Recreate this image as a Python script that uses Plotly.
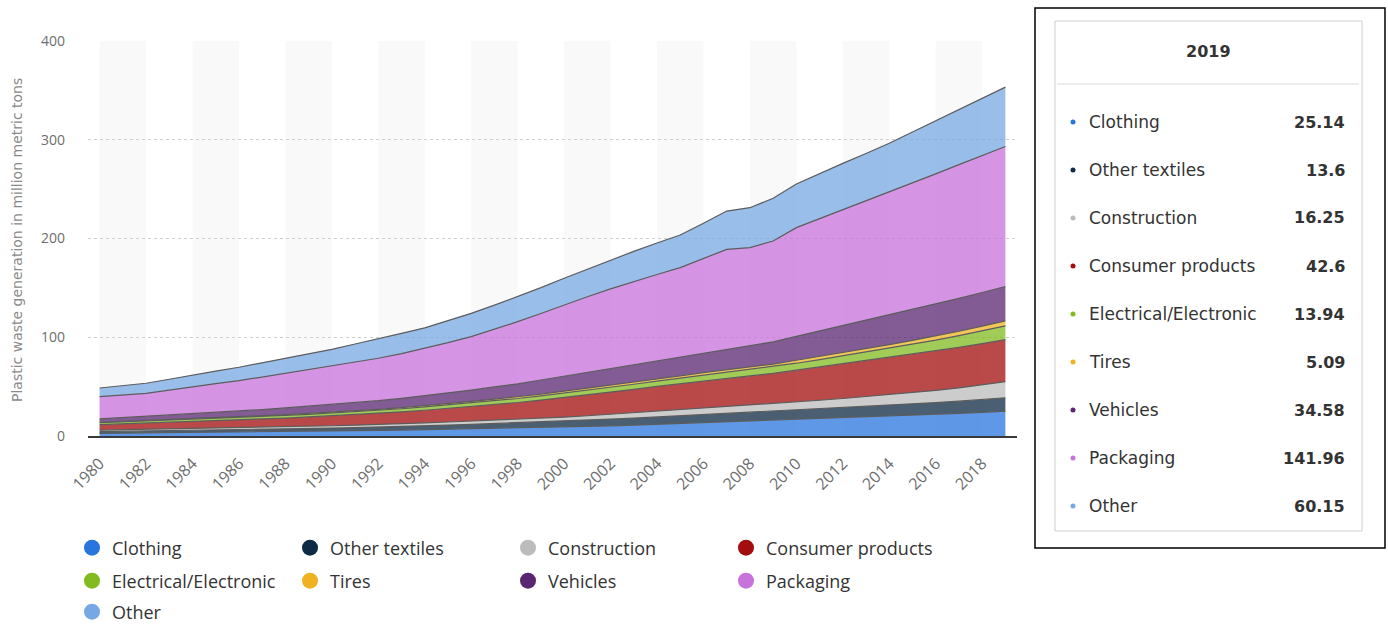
import plotly.graph_objects as go

# Plastic waste generation by industrial sector, million metric tons
years = list(range(1980, 2020))

clothing = [2.7, 2.9, 3.1, 3.3, 3.5, 3.7, 3.9, 4.2, 4.4, 4.7,
            5.0, 5.3, 5.6, 6.0, 6.4, 6.8, 7.2, 7.6, 8.0, 8.4,
            8.9, 9.6, 10.3, 11.0, 11.8, 12.6, 13.5, 14.3, 15.0, 15.8,
            16.6, 17.5, 18.4, 19.3, 20.1, 21.0, 21.9, 22.9, 24.0, 25.14]
other_textiles = [1.7, 1.8, 1.9, 2.0, 2.1, 2.2, 2.3, 2.5, 2.6, 2.8,
                  3.0, 3.2, 3.4, 3.7, 4.0, 4.3, 4.6, 5.0, 5.3, 5.7,
                  6.1, 6.4, 6.8, 7.2, 7.6, 8.0, 8.4, 8.7, 8.9, 9.2,
                  9.5, 9.8, 10.2, 10.6, 11.0, 11.4, 11.9, 12.4, 13.0, 13.6]
construction = [1.6, 1.7, 1.7, 1.8, 1.9, 1.9, 2.0, 2.1, 2.2, 2.3,
                2.4, 2.5, 2.6, 2.8, 2.9, 3.1, 3.3, 3.5, 3.7, 3.9,
                4.1, 4.5, 4.9, 5.3, 5.8, 6.2, 6.7, 7.1, 7.5, 7.9,
                8.4, 8.9, 9.4, 10.0, 10.7, 11.5, 12.4, 13.5, 14.8, 16.25]
consumer_products = [5.5, 5.9, 6.3, 6.7, 7.1, 7.5, 8.0, 8.5, 9.0, 9.5,
                     10.1, 10.7, 11.3, 12.0, 12.8, 13.7, 14.7, 15.8, 16.9, 18.4,
                     19.9, 21.2, 22.5, 23.8, 25.0, 26.2, 27.3, 28.5, 29.4, 30.5,
                     32.2, 33.6, 35.0, 36.3, 37.6, 38.8, 39.9, 40.9, 41.8, 42.6]
electrical = [1.9, 2.0, 2.0, 2.1, 2.2, 2.3, 2.4, 2.5, 2.6, 2.7,
              2.8, 2.9, 3.0, 3.1, 3.3, 3.5, 3.7, 3.9, 4.1, 4.3,
              4.5, 4.7, 4.9, 5.1, 5.3, 5.5, 5.8, 6.1, 6.3, 6.6,
              7.0, 7.6, 8.3, 8.9, 9.5, 10.2, 11.0, 11.9, 12.9, 13.94]
tires = [0.5, 0.5, 0.6, 0.6, 0.7, 0.7, 0.8, 0.8, 0.9, 0.9,
         1.0, 1.0, 1.1, 1.2, 1.3, 1.4, 1.5, 1.6, 1.7, 1.8,
         1.9, 2.0, 2.1, 2.2, 2.3, 2.4, 2.5, 2.6, 2.7, 2.8,
         3.0, 3.1, 3.3, 3.5, 3.7, 3.9, 4.2, 4.5, 4.8, 5.09]
vehicles = [3.4, 3.8, 4.2, 4.6, 5.0, 5.4, 5.8, 6.2, 6.7, 7.2,
            7.7, 8.2, 8.8, 9.4, 10.1, 10.8, 11.5, 12.3, 13.1, 14.2,
            15.2, 16.0, 16.8, 17.6, 18.4, 19.2, 19.8, 20.8, 21.6, 22.6,
            24.2, 25.8, 27.4, 28.9, 30.3, 31.5, 32.5, 33.3, 34.0, 34.58]
packaging = [22.5, 22.6, 23.4, 25.4, 27.5, 29.3, 30.8, 33.0, 35.1, 37.1,
             38.9, 40.8, 42.9, 45.3, 48.0, 50.9, 54.1, 58.3, 63.0, 67.3,
             72.1, 76.6, 80.7, 84.3, 87.3, 90.4, 96.0, 100.9, 99.3, 102.1,
             110.1, 113.7, 116.9, 120.5, 124.1, 128.0, 131.7, 135.4, 138.7, 141.96]
other = [8.8, 9.6, 10.2, 11.0, 11.8, 12.7, 13.6, 14.3, 15.2, 16.0,
         16.9, 18.6, 20.2, 20.5, 20.7, 22.0, 23.6, 24.5, 25.2, 26.2,
         27.0, 28.0, 29.0, 30.5, 32.0, 33.0, 35.5, 38.8, 40.5, 43.2,
         44.2, 46.0, 47.2, 48.0, 49.4, 51.5, 53.7, 55.8, 57.9, 60.15]

series_names = ["Clothing", "Other textiles", "Construction", "Consumer products",
                "Electrical/Electronic", "Tires", "Vehicles", "Packaging", "Other"]
series_values = [clothing, other_textiles, construction, consumer_products,
                 electrical, tires, vehicles, packaging, other]
series_colors = ["#2876dd", "#0f2a44", "#bcbcbc", "#a30d0d",
                 "#82bb1f", "#efb322", "#5a2672", "#c872db", "#78a8e3"]

x_ticks = list(range(1980, 2019, 2))
y_ticks = [0, 100, 200, 300, 400]

# plot-area geometry (pixels) used for placing the side panel
W, H = 1388, 625
PL, PR, PT, PB = 88, 1017, 41, 436


def px(x):
    return (x - PL) / (PR - PL)


def py(y):
    return (PB - y) / (PB - PT)


def rgba(hex_color, a):
    h = hex_color.lstrip("#")
    r, g, b = int(h[0:2], 16), int(h[2:4], 16), int(h[4:6], 16)
    return f"rgba({r},{g},{b},{a})"


fig = go.Figure()

# stacked areas
for name, vals, col in zip(series_names, series_values, series_colors):
    fig.add_trace(go.Scatter(
        x=years, y=vals, name=name, stackgroup="one", mode="lines",
        line=dict(color="#5c5c5c", width=1.2),
        fillcolor=rgba(col, 0.75),
        showlegend=False, hoverinfo="skip",
    ))

# legend entries (round markers), three rows
legend_rows = ["legend", "legend", "legend", "legend",
               "legend2", "legend2", "legend2", "legend2", "legend3"]
for name, col, lg in zip(series_names, series_colors, legend_rows):
    fig.add_trace(go.Scatter(
        x=[None], y=[None], name=name, mode="markers",
        marker=dict(color=col, size=16, symbol="circle"),
        showlegend=True, legend=lg, hoverinfo="skip",
    ))

# alternating background bands, two years wide
shapes = []
for start in range(1980, 2019, 4):
    shapes.append(dict(type="rect", xref="x", yref="paper",
                       x0=start, x1=start + 2, y0=0, y1=1,
                       fillcolor="#f9f9f9", line=dict(width=0), layer="below"))

# side panel with the 2019 breakdown
shapes.append(dict(type="rect", xref="paper", yref="paper",
                   x0=px(1035), x1=px(1385), y0=py(548), y1=py(8),
                   line=dict(color="#000000", width=1.5), fillcolor="white", layer="above"))
shapes.append(dict(type="rect", xref="paper", yref="paper",
                   x0=px(1055), x1=px(1362), y0=py(531), y1=py(21),
                   line=dict(color="#cfcfcf", width=1), fillcolor="white", layer="above"))
shapes.append(dict(type="line", xref="paper", yref="paper",
                   x0=px(1057), x1=px(1359), y0=py(84), y1=py(84),
                   line=dict(color="#dcdcdc", width=1), layer="above"))

annotations = [
    dict(text="Plastic waste generation in million metric tons", textangle=-90,
         xref="paper", yref="paper", x=px(17), y=py(240),
         xanchor="center", yanchor="middle", showarrow=False,
         font=dict(family="DejaVu Sans", size=14, color="#8a8a8a")),
    dict(text="<b>" + str(years[-1]) + "</b>", xref="paper", yref="paper",
         x=px(1208), y=py(51), xanchor="center", yanchor="middle", showarrow=False,
         font=dict(family="DejaVu Sans", size=16, color="#333333")),
]

for i, (name, vals, col) in enumerate(zip(series_names, series_values, series_colors)):
    row_y = 122 + 48 * i
    shapes.append(dict(type="circle", xref="paper", yref="paper",
                       x0=px(1070.5), x1=px(1075.5), y0=py(row_y + 2.5), y1=py(row_y - 2.5),
                       fillcolor=col, line=dict(width=0), layer="above"))
    annotations.append(dict(text=name, xref="paper", yref="paper",
                            x=px(1087), y=py(row_y), xanchor="left", yanchor="middle",
                            showarrow=False,
                            font=dict(family="DejaVu Sans", size=17, color="#333333")))
    annotations.append(dict(text="<b>" + f"{vals[-1]:g}" + "</b>", xref="paper", yref="paper",
                            x=px(1347), y=py(row_y), xanchor="right", yanchor="middle",
                            showarrow=False,
                            font=dict(family="DejaVu Sans", size=16, color="#333333")))

legend_style = dict(orientation="h", entrywidth=173, entrywidthmode="pixels",
                    xanchor="left", yanchor="middle", bgcolor="rgba(0,0,0,0)",
                    traceorder="normal",
                    font=dict(family="Open Sans", size=18, color="#333333"),
                    itemclick=False, itemdoubleclick=False)

fig.update_layout(
    width=W, height=H,
    margin=dict(l=PL, r=W - PR, t=PT, b=H - PB, autoexpand=False),
    paper_bgcolor="white", plot_bgcolor="white",
    hovermode=False,
    shapes=shapes, annotations=annotations,
    legend=dict(x=px(72), y=py(548), **legend_style),
    legend2=dict(x=px(72), y=py(581), **legend_style),
    legend3=dict(x=px(72), y=py(612), **legend_style),
    xaxis=dict(range=[1979.5, 2019.5], tickvals=x_ticks, tickangle=-45,
               showgrid=False, zeroline=False,
               showline=True, linecolor="#3a3a3a", linewidth=2,
               ticks="", ticklabelstandoff=10,
               tickfont=dict(family="Open Sans", size=16, color="#6e6e6e")),
    yaxis=dict(range=[0, 400], tickvals=y_ticks,
               showgrid=True, gridcolor="#cfcfcf", griddash="dot", gridwidth=1,
               zeroline=False, showline=False, ticks="", ticklabelstandoff=22,
               tickfont=dict(family="Open Sans", size=14, color="#6e6e6e")),
)

fig.write_html("out.html")
